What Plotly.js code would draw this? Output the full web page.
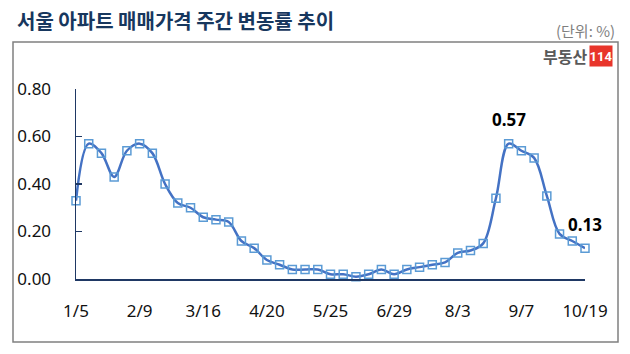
<!DOCTYPE html>
<html>
<head>
<meta charset="utf-8">
<script src="https://cdn.plot.ly/plotly-3.0.1.min.js"></script>
<style>html,body{margin:0;padding:0;background:#fff;}#chart{width:630px;height:354px;}</style>
</head>
<body>
<div id="chart"></div>
<script>
const dates = ["1/5","1/12","1/19","1/26","2/2","2/9","2/16","2/23","3/2","3/9",
  "3/16","3/23","3/30","4/6","4/13","4/20","4/27","5/4","5/11","5/18",
  "5/25","6/1","6/8","6/15","6/22","6/29","7/6","7/13","7/20","7/27",
  "8/3","8/10","8/17","8/24","8/31","9/7","9/14","9/21","10/5","10/12","10/19"];
const changes = [0.33,0.57,0.53,0.43,0.54,0.57,0.53,0.40,0.32,0.30,
  0.26,0.25,0.24,0.16,0.13,0.08,0.06,0.04,0.04,0.04,
  0.02,0.02,0.01,0.02,0.04,0.02,0.04,0.05,0.06,0.07,
  0.11,0.12,0.15,0.34,0.57,0.54,0.51,0.35,0.19,0.16,0.13];
const tickLabels = ["1/5","2/9","3/16","4/20","5/25","6/29","8/3","9/7","10/19"];
const labelled = [34, 40];

const KR = '"Noto Sans CJK KR", "Noto Sans", sans-serif';
const NUM = '"Noto Sans", "Open Sans", sans-serif';
const axisCol = '#1f3864';

const trace = {
  type: 'scatter', mode: 'lines+markers',
  x: dates, y: changes,
  line: {color: '#4472c4', width: 2.5, shape: 'spline', smoothing: 1},
  marker: {symbol: 'square-open', size: 8, color: '#5b9bd5', line: {width: 1.5, color: '#5b9bd5'}},
  cliponaxis: false, hoverinfo: 'x+y'
};

const W = 630, H = 354;
const m = {l: 76, r: 45, t: 89, b: 75};
const pw = W - m.l - m.r, ph = H - m.t - m.b;
const px = v => (v - m.l) / pw;
const py = v => (H - m.b - v) / ph;

const annotations = labelled.map(i => ({
  x: dates[i], y: changes[i], xref: 'x', yref: 'y',
  text: '<b>' + changes[i].toFixed(2) + '</b>', showarrow: false,
  yshift: 24, font: {family: NUM, size: 17, color: '#000'}
}));
annotations.push({
  xref: 'paper', yref: 'paper', x: px(617), y: py(31), xanchor: 'right', yanchor: 'middle',
  text: '(단위: %)', showarrow: false, font: {family: KR, size: 15, color: '#7f7f7f'}
});
annotations.push({
  xref: 'paper', yref: 'paper', x: px(589), y: py(56), xanchor: 'right', yanchor: 'middle',
  text: '<b>부동산</b>', showarrow: false, font: {family: KR, size: 16, color: '#595959'}
});
annotations.push({
  xref: 'paper', yref: 'paper', x: px(601), y: py(56), xanchor: 'center', yanchor: 'middle',
  text: '<b>114</b>', showarrow: false, width: 22, height: 20, borderpad: 0,
  bgcolor: '#e8352b', font: {family: '"Liberation Sans Narrow", "Roboto", sans-serif', size: 13, color: '#fff'}
});

const layout = {
  width: W, height: H, margin: m,
  paper_bgcolor: '#fff', plot_bgcolor: '#fff',
  showlegend: false,
  title: {
    text: '<b>서울 아파트 매매가격 주간 변동률 추이</b>',
    xref: 'container', yref: 'container', x: 17 / W, xanchor: 'left',
    y: 1 - 22 / H, yanchor: 'middle',
    font: {family: KR, size: 20, color: '#17375e'}
  },
  xaxis: {
    type: 'category', range: [0, dates.length - 1],
    tickmode: 'array', tickvals: tickLabels, ticktext: tickLabels,
    showline: true, linecolor: axisCol, linewidth: 1.5,
    ticks: '', showgrid: false, zeroline: false,
    ticklabelstandoff: 16,
    tickfont: {family: NUM, size: 17, color: '#111'}
  },
  yaxis: {
    range: [0, 0.8], dtick: 0.2, tick0: 0, tickformat: '.2f',
    showline: true, linecolor: axisCol, linewidth: 1.5,
    ticks: 'inside', ticklen: 6, tickcolor: axisCol, tickwidth: 1.5,
    showgrid: false, zeroline: false,
    ticklabelstandoff: 20,
    tickfont: {family: NUM, size: 17, color: '#111'}
  },
  shapes: [{
    type: 'rect', xref: 'paper', yref: 'paper',
    x0: px(13), x1: px(618), y0: py(342), y1: py(42),
    line: {color: '#808080', width: 1.5}, fillcolor: 'rgba(0,0,0,0)', layer: 'below'
  }],
  annotations: annotations
};

Plotly.newPlot('chart', [trace], layout, {displayModeBar: false, staticPlot: true});
</script>
</body>
</html>
